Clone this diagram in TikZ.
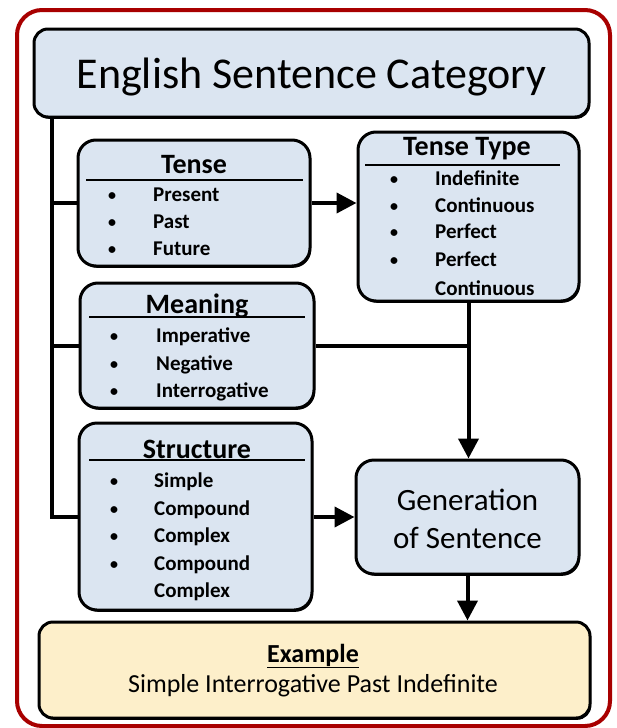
\documentclass[tikz,border=0pt]{standalone}
\usepackage{fontspec}
\setmainfont{Carlito}
\usetikzlibrary{arrows.meta,shadows}
\definecolor{boxblue}{HTML}{DBE5F1}
\definecolor{boxcream}{HTML}{FDEFCA}
\definecolor{framered}{HTML}{A80000}
\begin{document}
\begin{tikzpicture}[x=1pt,y=-1pt,
  basebox/.style={draw=black, line width=3pt, inner sep=0pt, rounded corners=18pt,
    general shadow={fill=black, shadow xshift=1.2pt, shadow yshift=-1.8pt}},
  bluebox/.style={basebox, fill=boxblue},
  creambox/.style={basebox, fill=boxcream, rounded corners=14pt},
  conn/.style={line width=4pt},
  arr/.style={conn, -{Triangle[length=20pt,width=20pt]}},
  hd/.style={anchor=base, inner sep=0pt, font=\fontsize{28}{32}\selectfont\bfseries},
  it/.style={anchor=base west, inner sep=0pt, font=\fontsize{21}{25}\selectfont\bfseries},
  bul/.style={anchor=base, inner sep=0pt, font=\fontsize{16}{20}\selectfont\bfseries},
  hline/.style={line width=1.3pt}]
\useasboundingbox (0,0) rectangle (616,728);
% outer frame
\draw[framered, line width=4pt, rounded corners=25pt] (17,10) rectangle (610,726);

% boxes
\node[bluebox, rounded corners=14pt, minimum width=555pt, minimum height=88pt] (title) at (311.5,73) {};
\node[bluebox, minimum width=232pt, minimum height=126pt] (tense) at (194,203) {};
\node[bluebox, minimum width=221pt, minimum height=169pt] (ttype) at (468.5,216.5) {};
\node[bluebox, minimum width=234pt, minimum height=125pt] (meaning) at (197,345.5) {};
\node[bluebox, minimum width=233pt, minimum height=187pt] (structure) at (195.5,516.5) {};
\node[bluebox, minimum width=223pt, minimum height=114pt] (gen) at (467.5,517) {};
\node[creambox, minimum width=551pt, minimum height=96pt] (example) at (314.5,670) {};

% title
\node[anchor=base, inner sep=0pt, font=\fontsize{44}{50}\selectfont] (titlet) at (311.5,88) {English Sentence Category};

% Tense
\node[hd] (tenseh) at (194,173) {Tense};
\draw[hline] (86,180) -- (303,180);
\node[bul] (tb1) at (112,200) {•};
\node[bul] (tb2) at (112,227) {•};
\node[bul] (tb3) at (112,254) {•};
\node[it] (t1) at (153,201) {Present};
\node[it] (t2) at (153,228) {Past};
\node[it] (t3) at (153,255) {Future};

% Tense Type
\node[hd] (ttypeh) at (467,155) {Tense Type};
\draw[hline] (365,165) -- (560,165);
\node[bul] (yb1) at (394,184) {•};
\node[bul] (yb2) at (394,211) {•};
\node[bul] (yb3) at (394,237) {•};
\node[bul] (yb4) at (394,265) {•};
\node[it] (y1) at (435,185) {Indefinite};
\node[it] (y2) at (435,212) {Continuous};
\node[it] (y3) at (435,238) {Perfect};
\node[it] (y4) at (435,266) {Perfect};
\node[it] (y5) at (435,295) {Continuous};

% Meaning
\node[hd] (meaningh) at (197,313) {Meaning};
\draw[hline] (89,317) -- (305,317);
\node[bul] (mb1) at (114,341) {•};
\node[bul] (mb2) at (114,369) {•};
\node[bul] (mb3) at (114,396) {•};
\node[it] (m1) at (156,342) {Imperative};
\node[it] (m2) at (156,370) {Negative};
\node[it] (m3) at (156,397) {Interrogative};

% Structure
\node[hd] (structureh) at (197,458) {Structure};
\draw[hline] (89,460) -- (305,460);
\node[bul] (sb1) at (114,486) {•};
\node[bul] (sb2) at (114,514) {•};
\node[bul] (sb3) at (114,541) {•};
\node[bul] (sb4) at (114,569) {•};
\node[it] (s1) at (154,487) {Simple};
\node[it] (s2) at (154,515) {Compound};
\node[it] (s3) at (154,542) {Complex};
\node[it] (s4) at (154,570) {Compound};
\node[it] (s5) at (154,597) {Complex};

% Generation
\node[anchor=base, inner sep=0pt, font=\fontsize{31}{36}\selectfont] (gen1) at (467.5,510) {Generation};
\node[anchor=base, inner sep=0pt, font=\fontsize{31}{36}\selectfont] (gen2) at (467.5,548) {of Sentence};

% Example
\node[anchor=base, inner sep=0pt, font=\fontsize{26}{30}\selectfont\bfseries] (exh) at (313,662) {\underline{Example}};
\node[anchor=base, inner sep=0pt, font=\fontsize{26}{30}\selectfont] (ext) at (313,692) {Simple Interrogative Past Indefinite};

% connectors
\coordinate (tk) at (52,117);
\draw[conn] (tk) |- (structure.west);
\draw[conn] (tense.west -| tk) -- (tense.west);
\draw[conn] (meaning.west -| tk) -- (meaning.west);
\draw[arr] (tense.east) -- (tense.east -| ttype.west);
\draw[arr] (ttype.south) -- (ttype.south |- gen.north);
\draw[conn] (meaning.east) -- (meaning.east -| ttype.south);
\draw[arr] (structure.east |- gen.west) -- (gen.west);
\draw[arr] (gen.south) -- (gen.south |- example.north);
\end{tikzpicture}
\end{document}
